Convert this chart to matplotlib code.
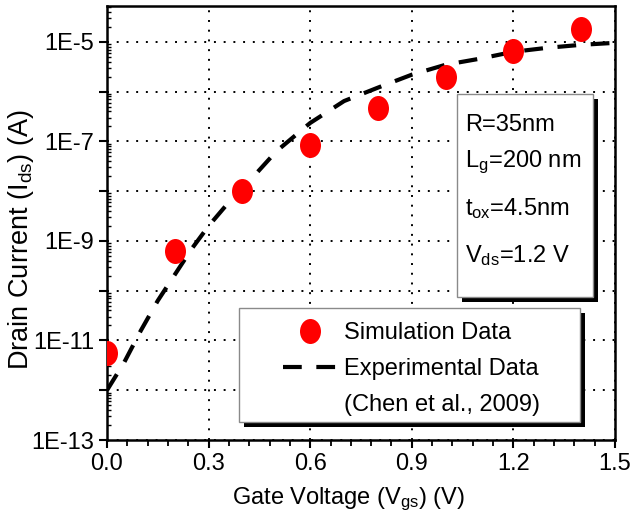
import numpy as np
import matplotlib
matplotlib.use("Agg")
import matplotlib.pyplot as plt
from matplotlib.path import Path
from matplotlib.patches import Rectangle
from matplotlib.lines import Line2D
from matplotlib.ticker import LogLocator, FuncFormatter, MultipleLocator, NullFormatter

plt.rcParams['font.family'] = ['Liberation Sans', 'DejaVu Sans']
plt.rcParams['mathtext.fontset'] = 'custom'
plt.rcParams['mathtext.rm'] = 'Liberation Sans'
plt.rcParams['mathtext.default'] = 'regular'

# ---- data ----
sim_vgs = [0.0, 0.2, 0.4, 0.6, 0.8, 1.0, 1.2, 1.4]
sim_ids = [5.6e-12, 6.3e-10, 1.0e-8, 8.5e-8, 4.7e-7, 2.0e-6, 6.6e-6, 1.8e-5]

exp_vgs = [0.0, 0.05, 0.1, 0.15, 0.2, 0.25, 0.3, 0.35, 0.4, 0.5, 0.6, 0.7,
           0.8, 0.9, 1.0, 1.1, 1.2, 1.3, 1.4, 1.5]
exp_log_ids = [-12.0, -11.45, -10.8, -10.2, -9.68, -9.16, -8.7, -8.3, -7.95,
               -7.2, -6.63, -6.19, -5.92, -5.66, -5.46, -5.34, -5.2, -5.12,
               -5.06, -5.02]
exp_ids = [10.0 ** v for v in exp_log_ids]

xticks = [0.0, 0.3, 0.6, 0.9, 1.2, 1.5]
box_lines = ['R=35nm', r'L$_{g}$=200 nm', r't$_{ox}$=4.5nm', r'V$_{ds}$=1.2 V']
legend_labels = ['Simulation Data', 'Experimental Data', '(Chen et al., 2009)']

W, H = 633, 528
fig = plt.figure(figsize=(W / 100, H / 100), dpi=100)
ax = fig.add_axes([107 / W, 1 - 440 / H, (615 - 107) / W, (440 - 6) / H])

def px(x, y):
    return (x / W, 1 - y / H)

# ellipse marker
circ = Path.unit_circle()
ell = Path(circ.vertices * np.array([0.84, 1.0]), circ.codes)

ax.plot(exp_vgs, exp_ids, color='black', lw=3, dashes=(4.5, 3.5),
        dash_capstyle='butt', zorder=3, label=legend_labels[1])
ax.plot(sim_vgs, sim_ids, linestyle='none', marker=ell, markersize=18,
        color='#ff0000', markeredgewidth=0, zorder=4, label=legend_labels[0])

ax.set_yscale('log')
ax.set_xlim(0, 1.5)
ax.set_ylim(1e-13, 10 ** -4.28)

ax.set_xticks(xticks)
ax.set_xticklabels([f'{t:.1f}' for t in xticks])
ax.xaxis.set_minor_locator(MultipleLocator(0.06))

ax.yaxis.set_major_locator(LogLocator(base=10, numticks=30))
def yfmt(v, pos):
    e = int(round(np.log10(v)))
    return f'1E{e}' if e % 2 != 0 else ''
ax.yaxis.set_major_formatter(FuncFormatter(yfmt))
ax.yaxis.set_minor_locator(LogLocator(base=10, subs=np.arange(2, 10), numticks=30))
ax.yaxis.set_minor_formatter(NullFormatter())

ax.tick_params(axis='both', which='major', direction='out', length=6, width=1.5,
               labelsize=17, pad=3)
ax.tick_params(axis='x', which='minor', direction='out', length=4, width=1.3)
ax.tick_params(axis='y', which='minor', direction='in', length=3, width=1.0)
ax.tick_params(top=False, right=False, which='both')

for s in ax.spines.values():
    s.set_linewidth(1.8)

ax.grid(True, which='major', color='black', linestyle=(0, (1, 4)), linewidth=1.4)

ax.set_xlabel(r'Gate Voltage (V$_{gs}$) (V)', fontsize=17)
ax.set_ylabel(r'Drain Current (I$_{ds}$) (A)', fontsize=19.5)
ax.xaxis.set_label_coords(0.476, -0.105)
ax.yaxis.set_label_coords(-0.14, 0.462)

# ---- parameter text box ----
def shadow_box(x0, y0, x1, y1, off=5):
    bx, by = px(x0 + off, y1 + off)
    sh = Rectangle((bx, by), (x1 - x0) / W, (y1 - y0) / H, transform=fig.transFigure,
                   facecolor='black', edgecolor='none', zorder=5, clip_on=False)
    ax.add_patch(sh)
    bx, by = px(x0, y1)
    bb = Rectangle((bx, by), (x1 - x0) / W, (y1 - y0) / H, transform=fig.transFigure,
                   facecolor='white', edgecolor='#8a8a8a', linewidth=1.0, zorder=6,
                   clip_on=False)
    ax.add_patch(bb)

shadow_box(457, 94, 593, 297)
line_y = [125, 162, 209, 256]
for txt, yy in zip(box_lines, line_y):
    ax.text(*px(465, yy), txt, transform=fig.transFigure, fontsize=17,
            ha='left', va='center', zorder=7)

# ---- legend ----
shadow_box(239, 308, 580, 422)
blank = Line2D([], [], linestyle='none', marker='none')
handles, _ = ax.get_legend_handles_labels()
h_sim = handles[1]
h_exp = handles[0]
leg = ax.legend([h_sim, h_exp, blank], legend_labels, loc='upper left',
                bbox_to_anchor=px(283, 322), bbox_transform=fig.transFigure,
                frameon=False, fontsize=17, handlelength=2.25, handletextpad=0.35,
                labelspacing=0.6, borderpad=0, borderaxespad=0, markerscale=1.0)
leg.set_zorder(8)

fig.savefig('out.png', dpi=100)
